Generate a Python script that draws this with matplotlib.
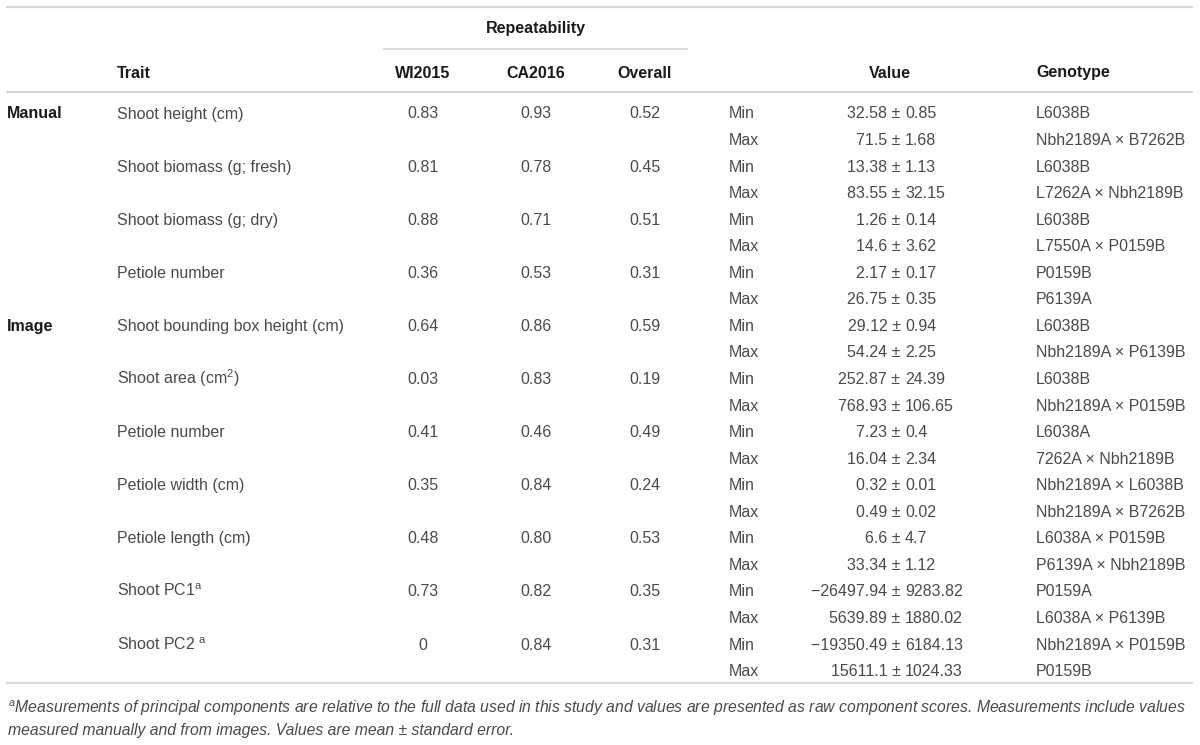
import matplotlib
matplotlib.use("Agg")
import matplotlib.pyplot as plt

# table content
groups = ["Manual", "", "", "", "Image", "", "", "", "", "", ""]
traits = ["Shoot height (cm)", "Shoot biomass (g; fresh)", "Shoot biomass (g; dry)",
          "Petiole number", "Shoot bounding box height (cm)", "Shoot area (cm$^{2}$)",
          "Petiole number", "Petiole width (cm)", "Petiole length (cm)",
          "Shoot PC1$^{\\mathrm{a}}$", "Shoot PC2 $^{\\mathrm{a}}$"]
wi2015 = ["0.83", "0.81", "0.88", "0.36", "0.64", "0.03", "0.41", "0.35", "0.48", "0.73", "0"]
ca2016 = ["0.93", "0.78", "0.71", "0.53", "0.86", "0.83", "0.46", "0.84", "0.80", "0.82", "0.84"]
overall = ["0.52", "0.45", "0.51", "0.31", "0.59", "0.19", "0.49", "0.24", "0.53", "0.35", "0.31"]

min_mean = [32.58, 13.38, 1.26, 2.17, 29.12, 252.87, 7.23, 0.32, 6.6, -26497.94, -19350.49]
min_se = [0.85, 1.13, 0.14, 0.17, 0.94, 24.39, 0.4, 0.01, 4.7, 9283.82, 6184.13]
max_mean = [71.5, 83.55, 14.6, 26.75, 54.24, 768.93, 16.04, 0.49, 33.34, 5639.89, 15611.1]
max_se = [1.68, 32.15, 3.62, 0.35, 2.25, 106.65, 2.34, 0.02, 1.12, 1880.02, 1024.33]
min_geno = ["L6038B", "L6038B", "L6038B", "P0159B", "L6038B", "L6038B", "L6038A",
            "Nbh2189A \u00d7 L6038B", "L6038A \u00d7 P0159B", "P0159A", "Nbh2189A \u00d7 P0159B"]
max_geno = ["Nbh2189A \u00d7 B7262B", "L7262A \u00d7 Nbh2189B", "L7550A \u00d7 P0159B", "P6139A",
            "Nbh2189A \u00d7 P6139B", "Nbh2189A \u00d7 P0159B", "7262A \u00d7 Nbh2189B",
            "Nbh2189A \u00d7 B7262B", "P6139A \u00d7 Nbh2189B", "L6038A \u00d7 P6139B", "P0159B"]

footnote = ["$^{\\mathit{a}}$Measurements of principal components are relative to the full data used in this study "
            "and values are presented as raw component scores. Measurements include values",
            "measured manually and from images. Values are mean \u00b1 standard error."]

plt.rcParams["font.family"] = ["Liberation Sans", "DejaVu Sans"]
plt.rcParams["mathtext.fontset"] = "custom"
plt.rcParams["mathtext.rm"] = "Liberation Sans"
plt.rcParams["mathtext.it"] = "Liberation Sans:italic"
plt.rcParams["mathtext.bf"] = "Liberation Sans:bold"

W, H = 1200, 745
fig = plt.figure(figsize=(W / 100, H / 100), dpi=100)
ax = fig.add_axes([0, 0, 1, 1])
ax.set_xlim(0, W)
ax.set_ylim(H, 0)
ax.axis("off")

fs = 11.5
body = "#4a4a4a"
head = "#1a1a1a"
rule = "#d8d8d8"
base = 5.5  # baseline offset from row centre, px

x_group, x_trait = 7, 117
x_wi, x_ca, x_ov = 423, 536, 645
x_mm, x_pm, x_geno = 729, 905, 1036

def fmt(v):
    s = str(abs(v))
    return ("\u2212" + s) if v < 0 else s

# rules
ax.plot([6, 1193], [7, 7], color=rule, lw=1.6, solid_capstyle="butt")
ax.plot([383, 688], [49, 49], color=rule, lw=1.2, solid_capstyle="butt")
ax.plot([6, 1193], [92, 92], color=rule, lw=1.6, solid_capstyle="butt")
ax.plot([6, 1193], [683, 683], color=rule, lw=1.6, solid_capstyle="butt")

# header
hk = dict(fontsize=fs, fontweight="bold", color=head, va="baseline")
ax.text(536, 27 + base, "Repeatability", ha="center", **hk)
ax.text(x_trait, 72 + base, "Trait", ha="left", **hk)
ax.text(x_wi, 72 + base, "WI2015", ha="center", **hk)
ax.text(x_ca, 72 + base, "CA2016", ha="center", **hk)
ax.text(x_ov, 72 + base, "Overall", ha="center", **hk)
ax.text(890, 72 + base, "Value", ha="center", **hk)
ax.text(x_geno, 72 + base, "Genotype", ha="left", **hk)

y0, dy = 113, 26.55
bk = dict(fontsize=fs, color=body, va="baseline")
for i in range(len(traits)):
    y = y0 + 2 * i * dy + base
    if groups[i]:
        ax.text(x_group, y, groups[i], ha="left", fontsize=fs, fontweight="bold",
                color=head, va="baseline")
    ax.text(x_trait, y, traits[i], ha="left", **bk)
    ax.text(x_wi, y, wi2015[i], ha="center", **bk)
    ax.text(x_ca, y, ca2016[i], ha="center", **bk)
    ax.text(x_ov, y, overall[i], ha="center", **bk)
    for j, (lab, m, se, g) in enumerate([("Min", min_mean[i], min_se[i], min_geno[i]),
                                         ("Max", max_mean[i], max_se[i], max_geno[i])]):
        yy = y + j * dy
        ax.text(x_mm, yy, lab, ha="left", **bk)
        ax.text(x_pm, yy, fmt(m) + " \u00b1 ", ha="right", **bk)
        ax.text(x_pm, yy, fmt(se), ha="left", **bk)
        ax.text(x_geno, yy, g, ha="left", **bk)

for k, line in enumerate(footnote):
    ax.text(8, 707 + k * 22 + base, line, ha="left", va="baseline", fontsize=11.3,
            style="italic", color=body)

fig.savefig("out.png", dpi=100)
